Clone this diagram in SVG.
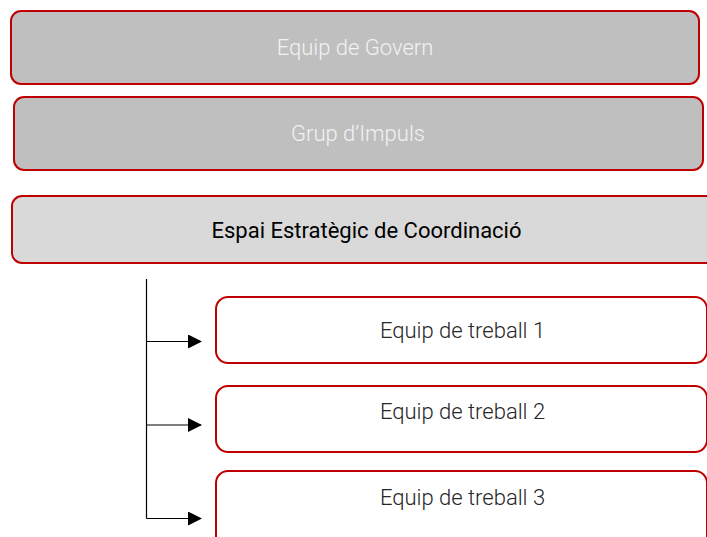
<svg xmlns="http://www.w3.org/2000/svg" width="707" height="537" viewBox="0 0 707 537">
<style>
.box{stroke:#c00000;stroke-width:2}
.g{fill:#bfbfbf}
.lg{fill:#d9d9d9}
.w{fill:#ffffff}
.t{font-family:Roboto,"Liberation Sans",sans-serif;font-size:22px;text-anchor:middle}
.light{font-weight:300}
.wt{fill:#f2f2f2}
.dk{fill:#000000}
.gr{fill:#262626}
.c{stroke:#000;stroke-width:1.2;fill:none}
</style>
<defs>
<marker id="ah" markerWidth="14" markerHeight="14" refX="13" refY="7" orient="auto" markerUnits="userSpaceOnUse">
<path d="M0,0 L14,7 L0,14 Z" fill="#000"/>
</marker>
</defs>
<g id="equip-govern">
<rect class="box g" x="11" y="11" width="688" height="73" rx="10"/>
<text class="t light wt" x="355" y="55">Equip de Govern</text>
</g>
<g id="grup-impuls">
<rect class="box g" x="14" y="97" width="689" height="73" rx="10"/>
<text class="t light wt" x="358" y="141">Grup d’Impuls</text>
</g>
<g id="espai-estrategic">
<rect class="box lg" x="12" y="196" width="710" height="67" rx="10"/>
<text class="t dk" x="366.5" y="238">Espai Estratègic de Coordinació</text>
</g>
<g id="equip-treball-1">
<rect class="box w" x="216" y="297" width="491" height="66" rx="12"/>
<text class="t light gr" x="462.5" y="338">Equip de treball 1</text>
</g>
<g id="equip-treball-2">
<rect class="box w" x="216" y="386" width="491" height="66" rx="12"/>
<text class="t light gr" x="462.5" y="419">Equip de treball 2</text>
</g>
<g id="equip-treball-3">
<rect class="box w" x="216" y="471" width="491" height="80" rx="12"/>
<text class="t light gr" x="462.5" y="505">Equip de treball 3</text>
</g>
<g id="connectors">
<line class="c" x1="146.5" y1="279" x2="146.5" y2="518.5"/>
<line class="c" x1="146.5" y1="341.5" x2="201" y2="341.5" marker-end="url(#ah)"/>
<line class="c" x1="146.5" y1="425" x2="201" y2="425" marker-end="url(#ah)"/>
<line class="c" x1="146.5" y1="518.5" x2="201" y2="518.5" marker-end="url(#ah)"/>
</g>
</svg>
